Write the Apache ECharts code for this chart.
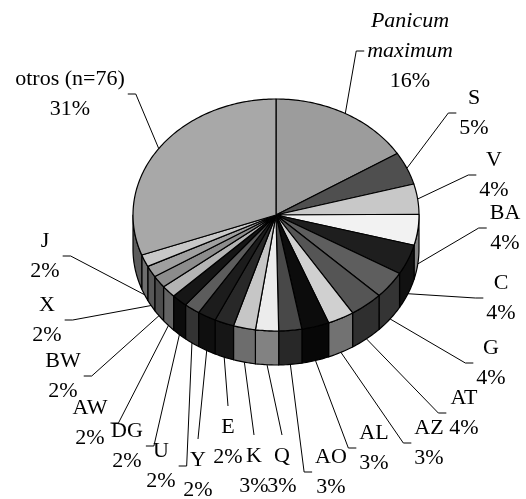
<!DOCTYPE html>
<html>
<head>
<meta charset="utf-8">
<script src="https://cdn.jsdelivr.net/npm/echarts@6/dist/echarts.min.js"></script>
<style>
  html, body { margin: 0; padding: 0; background: #ffffff; }
  #chart { width: 526px; height: 499px; }
</style>
</head>
<body>
<div id="chart"></div>
<script>
// Slices, clockwise from twelve o'clock
const categories = ['Panicum maximum', 'S', 'V', 'BA', 'C', 'G', 'AT', 'AZ', 'AL', 'AO', 'Q',
  'K', 'E', 'Y', 'U', 'DG', 'AW', 'BW', 'X', 'J', 'otros (n=76)'];
const shares = [16.1, 4.6, 4.2, 4.3, 4.2, 3.8, 3.8, 3.0, 3.1, 2.6, 2.6,
  2.5, 2.2, 2.1, 1.8, 1.8, 1.7, 1.7, 1.6, 1.7, 30.6];
const italicNames = ['Panicum maximum'];

// Top-face fills (side walls are drawn in a darker shade of the same grey)
const sliceColors = ['#9c9c9c', '#4f4f4f', '#c8c8c8', '#f2f2f2', '#1e1e1e', '#5e5e5e', '#555555',
  '#d0d0d0', '#0c0c0c', '#484848', '#ececec', '#c6c6c6', '#282828', '#1c1c1c', '#5c5c5c',
  '#161616', '#b4b4b4', '#8c8c8c', '#a0a0a0', '#c8c8c8', '#a8a8a8'];

// Label block centres and the side the leader line attaches to
const labelCenters = [[410, 51], [474, 113], [494, 175], [505, 228], [501, 298], [491, 363],
  [464, 413], [429, 443], [374, 448], [331, 472], [282, 471], [254, 471], [228, 442],
  [198, 475], [161, 466], [127, 446], [90, 423], [63, 376], [47, 320], [45, 256], [70, 94]];
const labelSides = ['left', 'left', 'left', 'left', 'left', 'left', 'left', 'left', 'left', 'left',
  'top', 'top', 'top', 'top', 'right', 'right', 'right', 'right', 'right', 'right', 'right'];

// Pie geometry
const CX = 276, CY = 215, RX = 143, RY = 116, DEPTH = 34;
const FONT_SIZE = 22, LINE_H = 30;
const FAMILY = '"Liberation Serif", "Times New Roman", serif';
const FONT = FONT_SIZE + 'px ' + FAMILY;
const FONT_I = 'italic ' + FONT;

const total = shares.reduce((a, b) => a + b, 0);
const startAngles = [];
let acc = 0;
shares.forEach(v => { startAngles.push(acc / total * Math.PI * 2); acc += v; });

function shade(hex, k) {
  const n = parseInt(hex.slice(1), 16);
  const r = Math.round(((n >> 16) & 255) * k), g = Math.round(((n >> 8) & 255) * k), b = Math.round((n & 255) * k);
  return 'rgb(' + r + ',' + g + ',' + b + ')';
}
function pt(t, dy) {
  return [CX + RX * Math.sin(t), CY - RY * Math.cos(t) + (dy || 0)];
}
function arc(a, b, dy) {
  const n = Math.max(2, Math.ceil((b - a) / (Math.PI / 180)));
  const out = [];
  for (let i = 0; i <= n; i++) out.push(pt(a + (b - a) * i / n, dy));
  return out;
}

const measureCtx = document.createElement('canvas').getContext('2d');
function textWidth(s, font) { measureCtx.font = font; return measureCtx.measureText(s).width; }

function labelParts(i) {
  const pct = Math.round(shares[i] / total * 100) + '%';
  const name = categories[i];
  if (italicNames.indexOf(name) >= 0) {
    const words = name.split(' ');
    return {
      text: words.map(w => '{i|' + w + '}').join('\n') + '\n' + pct,
      lines: words.map(w => [w, FONT_I]).concat([[pct, FONT]])
    };
  }
  return { text: name + '\n' + pct, lines: [[name, FONT], [pct, FONT]] };
}

function renderItem(params, api) {
  const i = params.dataIndex;
  const a1 = startAngles[i];
  const a2 = a1 + api.value(0) / total * Math.PI * 2;
  const children = [];
  const stroke = { stroke: '#000', lineWidth: 1.2, lineJoin: 'round' };

  // front wall
  const s = Math.max(a1, Math.PI / 2), e = Math.min(a2, Math.PI * 1.5);
  if (s < e) {
    const pts = arc(s, e, 0).concat(arc(s, e, DEPTH).reverse());
    children.push({ type: 'polygon', shape: { points: pts },
      style: Object.assign({ fill: shade(sliceColors[i], 0.55) }, stroke) });
  }
  // top face
  children.push({ type: 'polygon', shape: { points: [[CX, CY]].concat(arc(a1, a2, 0)) },
    style: Object.assign({ fill: sliceColors[i] }, stroke) });

  // label and leader line
  const mid = (a1 + a2) / 2;
  const anchor = pt(mid, Math.cos(mid) < 0 ? DEPTH : 0);
  const lp = labelParts(i);
  const w = Math.max.apply(null, lp.lines.map(l => textWidth(l[0], l[1])));
  const h = lp.lines.length * LINE_H;
  const [lx, ly] = labelCenters[i];
  let leader;
  if (labelSides[i] === 'left') {
    const x0 = lx - w / 2 - 3;
    leader = [[x0, ly], [x0 - 8, ly], anchor];
  } else if (labelSides[i] === 'right') {
    const x0 = lx + w / 2 + 3;
    leader = [[x0, ly], [x0 + 8, ly], anchor];
  } else {
    leader = [[lx, ly - h / 2 - 6], anchor];
  }
  children.push({ type: 'polyline', shape: { points: leader },
    style: { stroke: '#000', lineWidth: 1, fill: null } });
  children.push({ type: 'text', x: lx, y: ly,
    style: {
      text: lp.text, fill: '#000', font: FONT,
      align: 'center', verticalAlign: 'middle',
      lineHeight: LINE_H,
      rich: { i: { font: FONT_I, lineHeight: LINE_H, align: 'center' } }
    } });

  return { type: 'group', children: children };
}

const chart = echarts.init(document.getElementById('chart'), null, { renderer: 'canvas' });
chart.setOption({
  backgroundColor: '#ffffff',
  animation: false,
  textStyle: { fontFamily: FAMILY, fontSize: FONT_SIZE },
  series: [{
    type: 'custom',
    coordinateSystem: 'none',
    silent: true,
    renderItem: renderItem,
    data: shares.map((v, i) => ({ name: categories[i], value: [v] }))
  }]
});
</script>
</body>
</html>
